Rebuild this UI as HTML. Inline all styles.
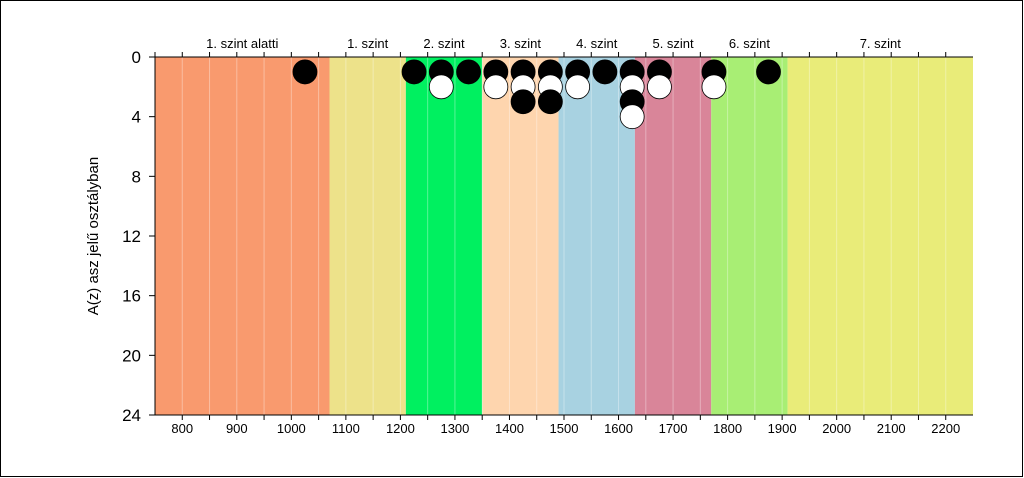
<!DOCTYPE html>
<html><head><meta charset="utf-8"><style>
body{margin:0;background:#fff}
svg{display:block;font-family:"Liberation Sans",sans-serif}
</style></head><body>
<svg width="1024" height="478" viewBox="0 0 1024 478">
<rect x="0.5" y="0.5" width="1022" height="476" fill="#fff" stroke="#000"/>
<g id="bands"></g><g id="grid"></g><g id="axes"></g><g id="pts"></g>
<text transform="translate(98,236) rotate(-90)" text-anchor="middle" font-size="15">A(z) asz jelű osztályban</text>
</svg>
<script>
const bandNames=["1. szint alatti","1. szint","2. szint","3. szint","4. szint","5. szint","6. szint","7. szint"];
const bandEdges=[750,1070,1210,1350,1490,1630,1770,1910,2250];
const bandColors=["#F99A6E","#EDE28A","#00F060","#FED5AE","#A8D2E1","#D98599","#A8EE74","#E9EC79"];
const xTicks=[800,900,1000,1100,1200,1300,1400,1500,1600,1700,1800,1900,2000,2100,2200];
const yTicks=[0,4,8,12,16,20,24];
const blackX=[1025,1225,1275,1325,1375,1425,1475,1525,1575,1625,1675,1775,1875];
const blackY=[1,1,1,1,1,1,1,1,1,1,1,1,1];
const white1X=[1275,1375,1425,1475,1525,1625,1675,1775];
const white1Y=[2,2,2,2,2,2,2,2];
const black2X=[1425,1475,1625];
const black2Y=[3,3,3];
const white2X=[1625];
const white2Y=[4];
const X0=155,X1=973,Y0=57,Y1=415,D0=750,D1=2250;
const sx=v=>X0+(v-D0)/(D1-D0)*(X1-X0);
const sy=v=>Y0+v/24*(Y1-Y0);
const NS="http://www.w3.org/2000/svg";
function mk(p,t,a){const e=document.createElementNS(NS,t);for(const k in a)e.setAttribute(k,a[k]);document.getElementById(p).appendChild(e);return e;}
for(let i=0;i<bandNames.length;i++){
 const r=mk("bands","rect",{x:sx(bandEdges[i]),y:Y0,width:sx(bandEdges[i+1])-sx(bandEdges[i]),height:Y1-Y0,fill:bandColors[i]});
 
 
 const t=mk("axes","text",{x:(sx(bandEdges[i])+sx(bandEdges[i+1]))/2,y:48,"text-anchor":"middle","font-size":"13"});
 t.textContent=bandNames[i];
 
 
}
for(let v=800;v<D1;v+=50){
 mk("grid","line",{x1:sx(v),x2:sx(v),y1:Y0,y2:Y1,stroke:"rgba(255,255,255,0.35)","stroke-width":1});
 mk("axes","line",{x1:sx(v),x2:sx(v),y1:Y0,y2:Y0-5,stroke:"#000"});
 mk("axes","line",{x1:sx(v),x2:sx(v),y1:Y1,y2:Y1+5,stroke:"#000"});
}
mk("axes","line",{x1:X0,x2:X1,y1:Y0,y2:Y0,stroke:"#000"});
mk("axes","line",{x1:X0,x2:X1,y1:Y1,y2:Y1,stroke:"#000"});
mk("axes","line",{x1:X0,x2:X0,y1:Y0-5,y2:Y1,stroke:"#000"});
xTicks.forEach(v=>{const t=mk("axes","text",{x:sx(v),y:433,"text-anchor":"middle","font-size":"13"});t.textContent=v;
 
 });
yTicks.forEach(v=>{mk("axes","line",{x1:X0-6,x2:X0,y1:sy(v),y2:sy(v),stroke:"#000"});
 const t=mk("axes","text",{x:X0-14,y:sy(v)+6,"text-anchor":"end","font-size":"17"});t.textContent=v;
 
 });
function dots(xs,ys,fill,name){xs.forEach((v,i)=>{const c=mk("pts","circle",{cx:sx(v),cy:sy(ys[i]),r:12,fill:fill,stroke:"#000","stroke-width":0.8});
 
 });}
dots(blackX,blackY,"#000","point-black");
dots(white1X,white1Y,"#fff","point-white");
dots(black2X,black2Y,"#000","point-black");
dots(white2X,white2Y,"#fff","point-white");
</script>
</body></html>
